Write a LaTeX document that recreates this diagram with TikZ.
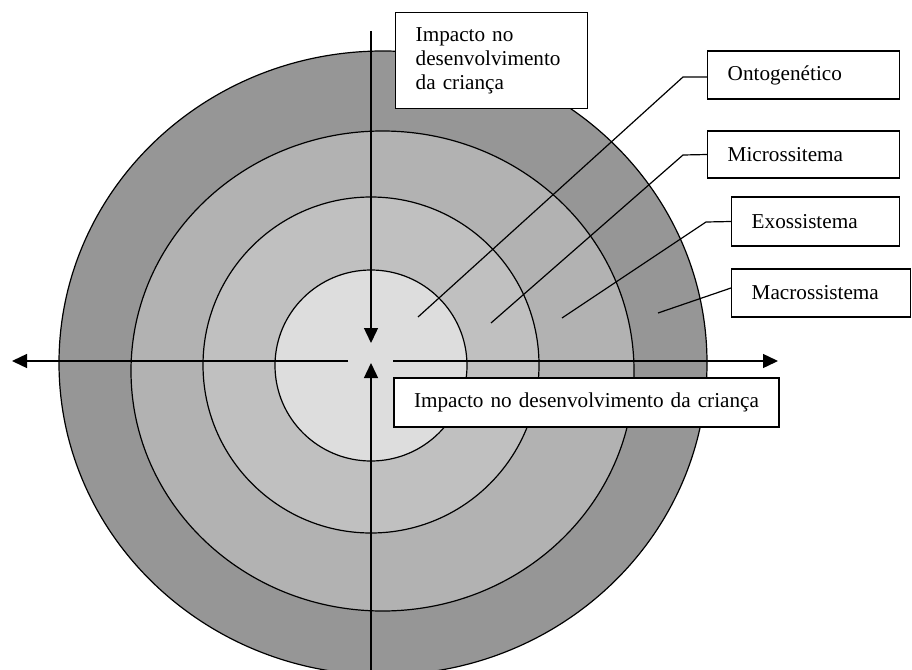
\documentclass[tikz,border=0pt]{standalone}
\usepackage{fontspec}
\setmainfont{Liberation Serif}
\usetikzlibrary{arrows.meta,calc}
\definecolor{gOuter}{RGB}{150,150,150}
\definecolor{gSecond}{RGB}{178,178,178}
\definecolor{gThird}{RGB}{192,192,192}
\definecolor{gInner}{RGB}{221,221,221}
\begin{document}
\begin{tikzpicture}[x=1pt,y=-1pt,
  ringline/.style={draw=black, line width=1.2pt},
  axisarrow/.style={line width=1.4pt, -{Triangle[length=15pt,width=14pt]}},
  leader/.style={line width=1.2pt},
  lbl/.style={draw=black, fill=white, line width=1.4pt,
    font=\fontsize{21.2}{24}\selectfont, inner xsep=20pt, inner ysep=0pt,
    align=left},
  lblc/.style={draw=black, fill=white, line width=1.4pt,
    font=\fontsize{21.2}{24}\selectfont, inner xsep=0pt, inner ysep=0pt,
    align=center}]
\useasboundingbox (0,0) rectangle (912,669);
\clip (0,0) rectangle (912,669);
% rings
\path[ringline, fill=gOuter] (383,363) ellipse [x radius=324, y radius=312];
\path[ringline, fill=gSecond] (382.5,371) ellipse [x radius=251.5, y radius=240];
\path[ringline, fill=gThird] (371,365) ellipse [x radius=168, y radius=168];
\path[ringline, fill=gInner] (371,365.5) ellipse [x radius=96, y radius=95.5];
% axes
\coordinate (axL) at (12,361);
\coordinate (axLs) at (348,361);
\coordinate (axRs) at (393,361);
\coordinate (axR) at (778,361);
\coordinate (axT) at (371,31);
\coordinate (axTt) at (371,343);
\coordinate (axB) at (371,680);
\coordinate (axBt) at (371,363);
\draw[axisarrow] (axLs) -- (axL);
\draw[axisarrow] (axRs) -- (axR);
\draw[axisarrow] (axT) -- (axTt);
\draw[axisarrow] (axB) -- (axBt);
% label boxes
\node[lbl, anchor=north west, text width=152pt, minimum height=96pt] (impTop)
  at (395,12) {Impacto no\\desenvolvimento\\da criança};
\node[lbl, anchor=west, text width=152pt, minimum height=48pt] (onto)
  at (707,75) {Ontogenético};
\node[lbl, anchor=west, text width=152pt, minimum height=47pt] (micro)
  at (707,154.5) {Microssitema};
\node[lbl, anchor=west, text width=128pt, minimum height=49pt] (exo)
  at (731,221.5) {Exossistema};
\node[lbl, anchor=west, text width=139pt, minimum height=48pt] (macro)
  at (731,293) {Macrossistema};
\node[lblc, text width=385pt, minimum height=49pt] (impBot)
  at (586.5,402.5) {Impacto no desenvolvimento da criança};
% leaders
\coordinate (ontoK) at (683,77);
\coordinate (ontoE) at (418,317);
\coordinate (microK) at (683,155);
\coordinate (microE) at (491,323);
\coordinate (exoK) at (706,222);
\coordinate (exoE) at (562,318);
\coordinate (macroE) at (658,313);
\draw[leader] ([yshift=-2pt]onto.west) -- (ontoK) -- (ontoE);
\draw[leader] (micro.west) -- (microK) -- (microE);
\draw[leader] (exo.west) -- (exoK) -- (exoE);
\draw[leader] ([yshift=5pt]macro.west) -- (macroE);
\end{tikzpicture}
\end{document}
